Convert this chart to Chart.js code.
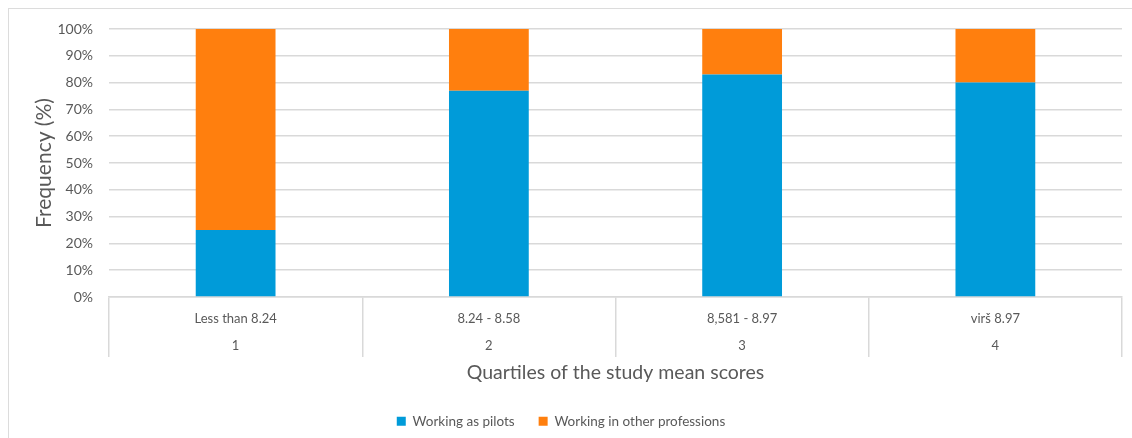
<!DOCTYPE html>
<html>
<head>
<meta charset="utf-8">
<script src="https://cdn.jsdelivr.net/npm/chart.js@4.4.1/dist/chart.umd.min.js"></script>
<style>
  html, body { margin: 0; padding: 0; background: #fff; overflow: hidden; }
  #frame {
    position: absolute; left: 8px; top: 8px; width: 1140px; height: 450px;
    border-left: 1.5px solid #dcdcdc; border-top: 1.5px solid #dcdcdc;
  }
  #wrap { position: absolute; left: 0; top: 0; width: 1132px; height: 438px; }
</style>
</head>
<body>
<div id="frame"></div>
<div id="wrap"><canvas id="chart"></canvas></div>
<script>
// quartile ranges and their number
const rangeLabels = ["Less than 8.24", "8.24 - 8.58", "8,581 - 8.97", "virš 8.97"];
const quartiles = ["1", "2", "3", "4"];
// percent of respondents in each group
const pilots = [25, 77, 83, 80];
const otherJobs = [75, 23, 17, 20];

const grey = "#595959";
const gridGrey = "#d9d9d9";
const font = "Lato, 'Open Sans', sans-serif";

new Chart(document.getElementById("chart"), {
    type: "bar",
    data: {
        labels: rangeLabels.map((r, i) => [r, quartiles[i]]),
        datasets: [
            { label: "Working as pilots", data: pilots, backgroundColor: "#009bd9" },
            { label: "Working in other professions", data: otherJobs, backgroundColor: "#ff7f0e" },
        ],
    },
    options: {
        responsive: true,
        maintainAspectRatio: false,
        animation: false,
        layout: { padding: { top: 29, right: 10, left: 0, bottom: 0 } },
        datasets: { bar: { categoryPercentage: 1, barPercentage: 0.315 } },
        scales: {
            x: {
                stacked: true,
                afterFit: axis => { axis.height = 93.5; },
                grid: {
                    offset: true,
                    drawOnChartArea: false,
                    drawTicks: true,
                    tickLength: 60,
                    color: gridGrey,
                    lineWidth: 1.5,
                },
                border: { display: true, color: gridGrey, width: 1.5 },
                ticks: {
                    color: grey,
                    font: { family: font, size: 13, lineHeight: 2.08 },
                    padding: -52,
                    maxRotation: 0,
                },
                title: {
                    display: true,
                    text: "Quartiles of the study mean scores",
                    color: grey,
                    font: { family: font, size: 19.5 },
                    padding: { top: 0, bottom: 6 },
                },
            },
            y: {
                stacked: true,
                min: 0,
                max: 100,
                afterFit: axis => { axis.width = 109; },
                grid: { color: gridGrey, lineWidth: 1.5, drawTicks: false },
                border: { display: false },
                ticks: {
                    stepSize: 10,
                    color: grey,
                    padding: 16,
                    font: { family: font, size: 14 },
                    callback: v => v + "%",
                },
                title: {
                    display: true,
                    text: "Frequency (%)",
                    color: grey,
                    font: { family: font, size: 21 },
                    padding: { top: 32, bottom: 0 },
                },
            },
        },
        plugins: {
            legend: {
                position: "bottom",
                labels: {
                    color: grey,
                    boxWidth: 9,
                    boxHeight: 9,
                    padding: 24,
                    font: { family: font, size: 13.5 },
                },
            },
            tooltip: { enabled: false },
        },
    },
});
</script>
</body>
</html>
